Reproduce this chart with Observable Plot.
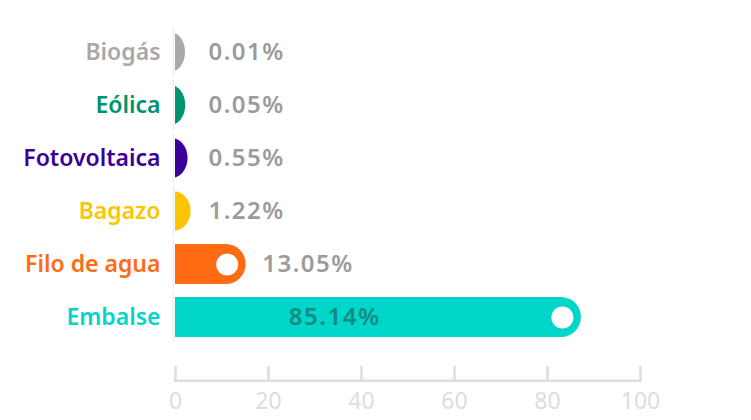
<!DOCTYPE html>
<html>
<head>
<meta charset="utf-8">
<script src="https://cdn.jsdelivr.net/npm/d3@7"></script>
<script src="https://cdn.jsdelivr.net/npm/@observablehq/plot@0.6"></script>
<style>
  html, body { margin: 0; padding: 0; background: #fff; }
  #chart svg { display: block; }
</style>
</head>
<body>
<div id="chart"></div>
<script>
// Data
const categories = ["Biogás", "Eólica", "Fotovoltaica", "Bagazo", "Filo de agua", "Embalse"];
const shares = [0.01, 0.05, 0.55, 1.22, 13.05, 85.14];
const palette = ["#a9a9a9", "#00936f", "#3b0099", "#ffc400", "#ff6b13", "#00d6c9"];
const xTicks = [0, 20, 40, 60, 80, 100];

const data = categories.map((name, i) => ({name, value: shares[i]}));

const W = 751, H = 420, mTop = 0, mBottom = 38;
const frameBottom = H - mBottom;
const FONT = "'Noto Sans', 'Open Sans', sans-serif";

const chart = Plot.plot({
  width: W,
  height: H,
  marginLeft: 175,
  marginRight: 111,
  marginTop: mTop,
  marginBottom: mBottom,
  style: {fontFamily: FONT, background: "#fff"},
  x: {domain: [0, 100], axis: null},
  y: {domain: categories, range: [29.5, 339.5], paddingInner: 0.24, paddingOuter: 0, axis: null},
  color: {domain: categories, range: palette},
  marks: [
    Plot.tickX(data, {x: 0, y: "name", stroke: "#ececec", strokeWidth: 1.5, dx: -2, insetTop: -5, insetBottom: -5}),
    Plot.barX(data, {x1: 0, x2: "value", y: "name", fill: "name", rx: 20, insetLeft: -20, insetRight: -10, clip: true}),
    Plot.dot(data.filter(d => d.value > 5), {x: "value", y: "name", r: 11, fill: "#fff", stroke: null, dx: -9}),
    Plot.text(data, {x: 0, y: "name", text: "name", fill: "name", textAnchor: "end", dx: -15,
      fontSize: 23, fontWeight: 600}),
    Plot.text(data.filter(d => d.value <= 50), {x: d => Math.max(d.value, 1.5), y: "name",
      text: d => d3.format(".2f")(d.value) + "%", textAnchor: "start", dx: 26,
      fill: "#9b9b9b", fontSize: 24, fontWeight: 600}),
    Plot.text(data.filter(d => d.value > 50), {x: "value", y: "name",
      text: d => d3.format(".2f")(d.value) + "%", textAnchor: "end", dx: -191,
      fill: "#128a80", fontSize: 24, fontWeight: 600}),
    Plot.barX([{a: 0, b: 100}], {x1: "a", x2: "b", fill: "#dddddd", insetTop: frameBottom - mTop - 2.5, insetLeft: -1.25, insetRight: -1.25}),
    Plot.ruleX(xTicks, {x: d => d, stroke: "#dddddd", strokeWidth: 2.5, insetTop: frameBottom - mTop - 16}),
    Plot.axisX(xTicks, {tickSize: 0, tickPadding: 10, fontSize: 23, fill: "#dddddd", tickFormat: "d"})
  ]
});
chart.querySelectorAll("text").forEach(t => { if (/%$/.test(t.textContent)) t.setAttribute("letter-spacing", "1.5"); });
document.getElementById("chart").appendChild(chart);
</script>
</body>
</html>
